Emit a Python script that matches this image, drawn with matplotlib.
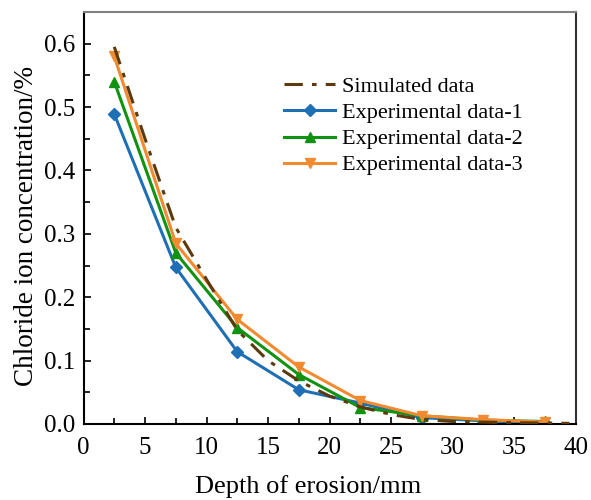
import matplotlib
matplotlib.use("Agg")
import matplotlib.pyplot as plt
from matplotlib.ticker import MultipleLocator

# depth of erosion (mm) and chloride ion concentration (%)
depth_sim = [2.5, 5, 7.5, 10, 12.5, 15, 17.5, 20, 22.5, 25, 27.5, 30, 32.5, 35, 37.5, 39.5]
conc_sim = [0.595, 0.45, 0.31, 0.228, 0.148, 0.100, 0.068, 0.044, 0.027, 0.015, 0.007, 0.004, 0.003, 0.002, 0.0015, 0.001]

depth_exp = [2.5, 7.5, 12.5, 17.5, 22.5, 27.5, 32.5, 37.5]
conc_exp1 = [0.489, 0.247, 0.114, 0.054, 0.033, 0.010, 0.005, 0.002]
conc_exp2 = [0.540, 0.270, 0.152, 0.078, 0.026, 0.013, 0.006, 0.004]
conc_exp3 = [0.580, 0.285, 0.165, 0.090, 0.037, 0.013, 0.007, 0.003]

plt.rcParams["font.family"] = ["Liberation Serif", "DejaVu Serif"]

fig = plt.figure(figsize=(5.91, 5.0), dpi=100)
ax = fig.add_axes([0.1413, 0.152, 0.8327, 0.824])

ax.plot(depth_sim, conc_sim, color='#5c3a0e', linewidth=2.2, linestyle=(0, (6, 3, 1.5, 3)),
        label='Simulated data', zorder=3)
ax.plot(depth_exp, conc_exp1, color='#1f6fb4', linewidth=2.2, marker='D', markersize=6,
        label='Experimental data-1')
ax.plot(depth_exp, conc_exp2, color='#119311', linewidth=2.2, marker='^', markersize=7,
        label='Experimental data-2')
ax.plot(depth_exp, conc_exp3, color='#f28a30', linewidth=2.2, marker='v', markersize=7,
        label='Experimental data-3')

ax.set_xlim(0, 40)
ax.set_ylim(0, 0.65)
ax.xaxis.set_major_locator(MultipleLocator(5))
ax.xaxis.set_minor_locator(MultipleLocator(2.5))
ax.yaxis.set_major_locator(MultipleLocator(0.1))
ax.yaxis.set_minor_locator(MultipleLocator(0.05))
ax.yaxis.set_major_formatter(matplotlib.ticker.FormatStrFormatter('%.1f'))

ax.tick_params(which='both', direction='in', length=5, width=1.2, labelsize=18, pad=6)
ax.tick_params(which='minor', length=4)
ax.tick_params(axis='x', pad=9)
ax.tick_params(top=False, right=False)

for s in ['left', 'bottom']:
    ax.spines[s].set_linewidth(1.5)
ax.spines['top'].set_color('#808080')
ax.spines['top'].set_linewidth(1.5)
ax.spines['right'].set_color('#333333')
ax.spines['right'].set_linewidth(1.5)

ax.set_xlabel('Depth of erosion/mm', fontsize=19)
ax.xaxis.set_label_coords(0.456, -0.124)
ax.set_ylabel('Chloride ion concentration/%', fontsize=19.5)
ax.yaxis.set_label_coords(-0.09, 0.48)

ax.legend(loc='upper left', bbox_to_anchor=(0.39, 0.865), frameon=False, fontsize=16,
          handlelength=2.3, handletextpad=0.3, labelspacing=0.25, borderaxespad=0)

fig.savefig('out.png', dpi=100)
